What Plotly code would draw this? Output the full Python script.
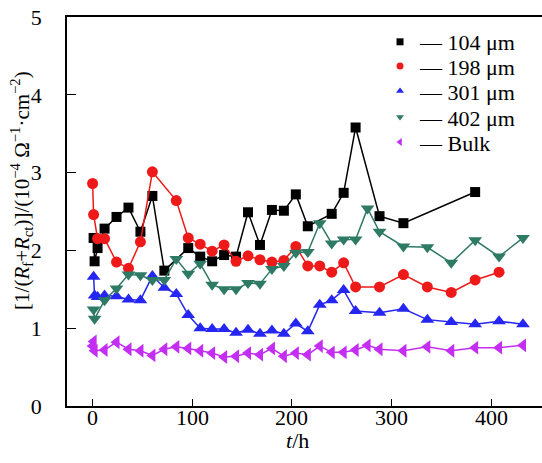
import plotly.graph_objects as go

t_104 = [1, 2, 5, 12, 24, 36, 48, 60, 72, 96, 108, 120, 132, 144, 156, 168, 180, 192, 204, 216, 240, 252, 264, 288, 312, 384]
v_104 = [2.16, 1.86, 2.03, 2.28, 2.43, 2.55, 2.24, 2.70, 1.74, 2.03, 1.92, 1.86, 1.94, 1.92, 2.49, 2.07, 2.52, 2.51, 2.72, 2.31, 2.47, 2.74, 3.58, 2.44, 2.35, 2.75]

t_198 = [0, 1, 5, 12, 24, 36, 48, 60, 84, 96, 108, 120, 132, 144, 156, 168, 180, 192, 204, 216, 228, 240, 252, 264, 288, 312, 336, 360, 384, 408]
v_198 = [2.86, 2.46, 2.15, 2.15, 1.85, 1.77, 2.11, 3.01, 2.64, 2.16, 2.08, 1.99, 2.07, 1.86, 1.93, 1.88, 1.85, 1.87, 2.05, 1.80, 1.80, 1.72, 1.84, 1.53, 1.53, 1.69, 1.53, 1.46, 1.62, 1.72]

t_301 = [1, 2, 5, 12, 24, 36, 48, 60, 72, 84, 96, 108, 120, 132, 144, 156, 168, 180, 192, 204, 216, 228, 240, 252, 264, 288, 312, 336, 360, 384, 408, 432]
v_301 = [1.66, 1.42, 1.40, 1.42, 1.41, 1.37, 1.36, 1.67, 1.52, 1.44, 1.17, 1.00, 0.99, 0.99, 0.94, 0.98, 0.93, 0.97, 0.93, 1.06, 0.96, 1.30, 1.36, 1.49, 1.22, 1.20, 1.25, 1.11, 1.08, 1.05, 1.09, 1.05]

t_402 = [1, 2, 12, 24, 36, 48, 60, 72, 84, 96, 108, 120, 132, 144, 156, 168, 180, 192, 204, 216, 228, 240, 252, 264, 276, 288, 312, 336, 360, 384, 408, 432]
v_402 = [1.24, 1.12, 1.36, 1.51, 1.69, 1.68, 1.62, 1.62, 1.89, 1.70, 1.83, 1.56, 1.50, 1.50, 1.58, 1.57, 1.76, 1.80, 1.97, 1.98, 2.35, 2.09, 2.14, 2.14, 2.54, 2.24, 2.05, 2.04, 1.84, 2.13, 1.92, 2.16]

t_bulk = [0, 1, 2, 12, 24, 36, 48, 60, 72, 84, 96, 108, 120, 132, 144, 156, 168, 180, 192, 204, 216, 228, 240, 252, 264, 276, 288, 312, 336, 360, 384, 408, 432]
v_bulk = [0.77, 0.83, 0.71, 0.72, 0.82, 0.73, 0.71, 0.65, 0.73, 0.76, 0.74, 0.71, 0.68, 0.63, 0.64, 0.68, 0.66, 0.74, 0.64, 0.68, 0.66, 0.77, 0.69, 0.69, 0.72, 0.78, 0.73, 0.71, 0.76, 0.71, 0.75, 0.75, 0.78]

x_ticks = [0, 100, 200, 300, 400]
y_ticks = [0, 1, 2, 3, 4, 5]

series = [
    ("104 μm", t_104, v_104, "#000000", "square", 10),
    ("198 μm", t_198, v_198, "#ee1a1a", "circle", 11),
    ("301 μm", t_301, v_301, "#2626f2", "triangle-up", 12),
    ("402 μm", t_402, v_402, "#2e7a64", "triangle-down", 12),
    ("Bulk", t_bulk, v_bulk, "#c42ef2", "triangle-left", 12),
]

font = "Liberation Serif, Times New Roman, serif"
fig = go.Figure()
for name, t, v, col, sym, sz in series:
    fig.add_trace(go.Scatter(x=t, y=v, mode="lines+markers", showlegend=False,
                             line=dict(color=col, width=1.5),
                             marker=dict(color=col, symbol=sym, size=sz)))

legend_ids = ["legend", "legend2", "legend3", "legend4", "legend5"]
legend_y = [0.9357, 0.8733, 0.8091, 0.7424, 0.6782]
legend_layout = {}
for (name, t, v, col, sym, sz), lid, ly in zip(series, legend_ids, legend_y):
    fig.add_trace(go.Scatter(x=[None], y=[None], mode="markers", name="— " + name,
                             legend=lid, showlegend=True,
                             marker=dict(color=col, symbol=sym, size=7)))
    legend_layout[lid] = dict(x=0.659, y=ly, xanchor="left", yanchor="middle",
                              bgcolor="rgba(0,0,0,0)", borderwidth=0,
                              font=dict(size=22, family=font, color="black"),
                              itemsizing="trace")

annotations = [
    dict(text="[1/(<i>R</i><sub>f</sub>+<i>R</i><sub>ct</sub>)]/(10<sup>−4</sup> Ω<sup>−1</sup>·cm<sup>−2</sup>)",
         xref="paper", yref="paper", x=-0.0947, y=0.553, xanchor="center", yanchor="middle",
         textangle=-90, showarrow=False, font=dict(size=21, family=font)),
    dict(text="<i>t</i>/h", xref="paper", yref="paper", x=0.486, y=-0.088,
         xanchor="center", yanchor="middle", showarrow=False, font=dict(size=22, family=font)),
]
for xv in x_ticks:
    annotations.append(dict(text=str(xv), xref="x", yref="paper", x=xv, y=-0.0295,
                            xanchor="center", yanchor="middle", showarrow=False,
                            font=dict(size=22, family=font)))

fig.update_layout(
    width=542, height=463,
    margin=dict(l=67, r=0, t=17, b=56.5),
    paper_bgcolor="white", plot_bgcolor="white",
    font=dict(family=font, size=22, color="black"),
    showlegend=True,
    xaxis=dict(range=[-25.7, 451.1], tickvals=x_ticks, showticklabels=False,
               ticks="inside", ticklen=7, tickwidth=1.3, tickcolor="black",
               showline=True, linecolor="black", linewidth=1.5, mirror=True,
               showgrid=False, zeroline=False),
    yaxis=dict(range=[0, 5], tickvals=y_ticks,
               ticks="inside", ticklen=9, tickwidth=1.3, tickcolor="black",
               showline=True, linecolor="black", linewidth=1.5, mirror=False,
               showgrid=False, zeroline=False, ticklabelstandoff=19),
    annotations=annotations,
    **legend_layout,
)

fig.write_html("out.html")
